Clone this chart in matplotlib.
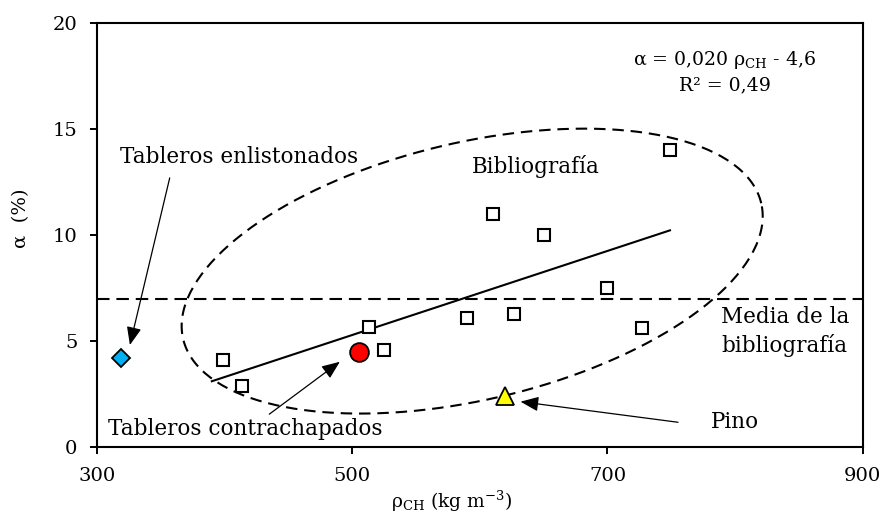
import matplotlib
matplotlib.use("Agg")
import matplotlib.pyplot as plt
import numpy as np

# bibliography data (density kg/m3, alpha %)
bib_rho = [399, 414, 513, 525, 590, 627, 610, 650, 700, 727, 749]
bib_alpha = [4.1, 2.9, 5.65, 4.6, 6.1, 6.3, 11.0, 10.0, 7.5, 5.6, 14.0]

# own tests
enlist_rho, enlist_alpha = [319], [4.2]
contra_rho, contra_alpha = [505], [4.5]
pino_rho, pino_alpha = [620], [2.4]

# regression and mean of bibliography
fit_slope, fit_intercept = 0.0198, -4.61
fit_range = [390, 749]
bib_mean = 7.0

plt.rcParams["font.family"] = ["DejaVu Serif"]
plt.rcParams["mathtext.fontset"] = "dejavuserif"

fig = plt.figure(figsize=(8.84, 5.16), dpi=100)
ax = fig.add_axes([0.1097, 0.1331, 0.8662, 0.8229])

ax.set_xlim(300, 900)
ax.set_ylim(0, 20)
ax.set_xticks([300, 500, 700, 900])
ax.set_yticks([0, 5, 10, 15, 20])
ax.tick_params(direction="out", length=5, width=1.4, labelsize=14, pad=9)
for s in ax.spines.values():
    s.set_linewidth(1.5)

# mean line
ax.axhline(bib_mean, color="black", lw=1.5, dashes=(6, 3.3))

# fit line
xf = np.array(fit_range)
ax.plot(xf, fit_slope * xf + fit_intercept, color="black", lw=1.5)

# ellipse around bibliography (pixel-space shape mapped to data)
sx, sy = 1.2767, 21.22
t = np.linspace(0, 2 * np.pi, 300)
a, b, th = 297, 128.6, np.radians(13.2)
ex = 594 + (a * np.cos(t) * np.cos(th) - b * np.sin(t) * np.sin(th)) / sx
ey = 8.3 + (a * np.cos(t) * np.sin(th) + b * np.sin(t) * np.cos(th)) / sy
ax.plot(ex, ey, color="black", lw=1.5, dashes=(5.5, 3.3))

ax.plot(bib_rho, bib_alpha, "s", ms=9, mfc="white", mec="black", mew=1.5)
ax.plot(enlist_rho, enlist_alpha, "D", ms=9, mfc="#00B0F0", mec="black", mew=1.3)
ax.plot(contra_rho, contra_alpha, "o", ms=13.5, mfc="#FF0000", mec="black", mew=1.3)
ax.plot(pino_rho, pino_alpha, "^", ms=13, mfc="#FFFF00", mec="black", mew=1.3)

arrow = dict(arrowstyle="-|>,head_length=1.1,head_width=0.45", color="black", lw=0.9,
             shrinkA=0, shrinkB=0)
ax.annotate("", xy=(325.8, 4.82), xytext=(357, 12.69), arrowprops=arrow)
ax.annotate("", xy=(490.3, 4.03), xytext=(435, 1.56), arrowprops=arrow)
ax.annotate("", xy=(631.9, 2.15), xytext=(755.3, 1.18), arrowprops=arrow)

fs = 15.5
ax.text(318, 13.4, "Tableros enlistonados", fontsize=fs, va="baseline", ha="left")
ax.text(308.6, 0.58, "Tableros contrachapados", fontsize=fs, va="baseline", ha="left")
ax.text(781, 0.91, "Pino", fontsize=fs, va="baseline", ha="left")
ax.text(593.5, 12.94, "Bibliografía", fontsize=fs, va="baseline", ha="left")
ax.text(789, 5.84, "Media de la", fontsize=fs, va="baseline", ha="left")
ax.text(789, 4.5, "bibliografía", fontsize=fs, va="baseline", ha="left")
ax.text(792, 18.02, "α = 0,020 ρ$_{\\mathrm{CH}}$ - 4,6", fontsize=13.6, va="baseline", ha="center")
ax.text(792, 16.8, "R² = 0,49", fontsize=13.6, va="baseline", ha="center")

ax.set_xlabel("ρ$_{\\mathrm{CH}}$ (kg m$^{\\mathrm{-3}}$)", fontsize=13.5)
ax.set_ylabel("α  (%)", fontsize=14)
ax.xaxis.set_label_coords(0.4636, -0.098)
ax.yaxis.set_label_coords(-0.088, 0.54)

fig.savefig("out.png", dpi=100)
